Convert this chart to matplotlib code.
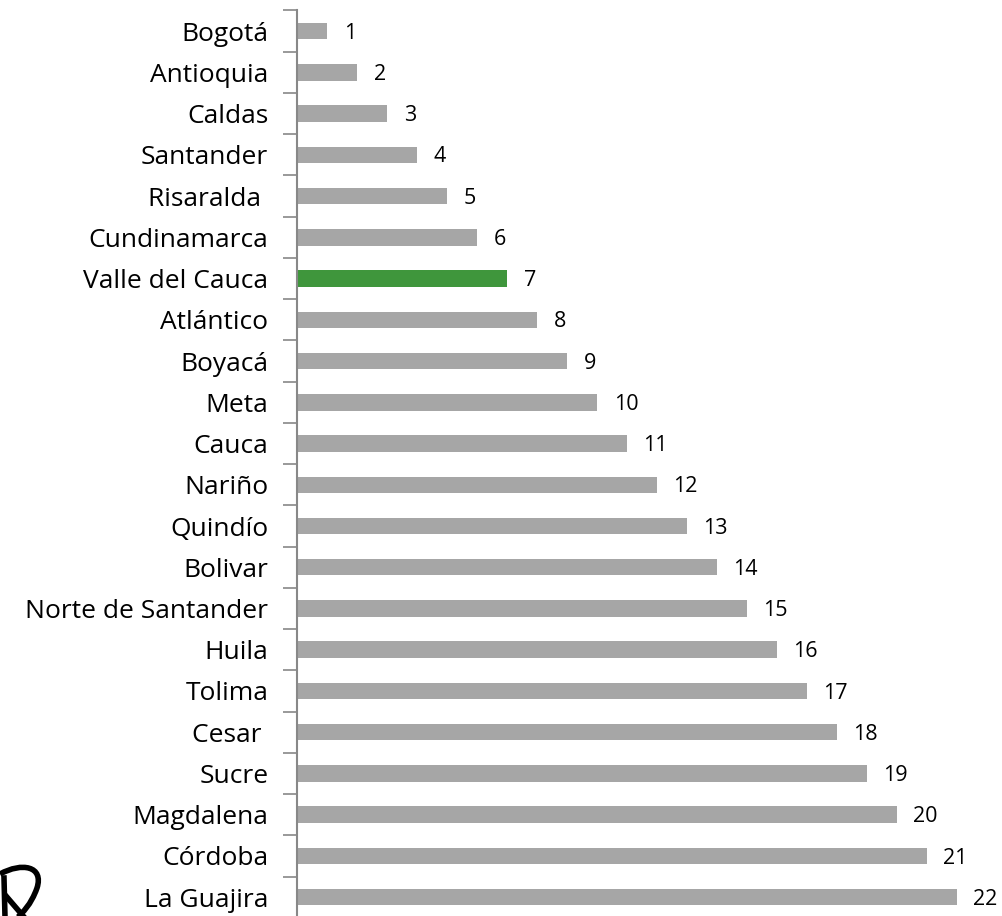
import numpy as np
import matplotlib.pyplot as plt
from matplotlib.path import Path
import matplotlib.patches as mpatches

# departments ranked, top to bottom
departments = ["Bogotá", "Antioquia", "Caldas", "Santander", "Risaralda ",
               "Cundinamarca", "Valle del Cauca", "Atlántico", "Boyacá", "Meta",
               "Cauca", "Nariño", "Quindío", "Bolivar", "Norte de Santander",
               "Huila", "Tolima", "Cesar ", "Sucre", "Magdalena", "Córdoba",
               "La Guajira"]
ranks = [1, 2, 3, 4, 5, 6, 7, 8, 9, 10, 11, 12, 13, 14, 15, 16, 17, 18, 19,
         20, 21, 22]
highlight = "Valle del Cauca"

plt.rcParams['font.family'] = ['Open Sans', 'DejaVu Sans']

fig = plt.figure(figsize=(10.03, 9.16), dpi=100)
ax = fig.add_axes([0.2966, -0.002, 0.6870, 0.9906])

n = len(departments)
y = np.arange(n)
colors = ['#3F963C' if d == highlight else '#A6A6A6' for d in departments]
ax.barh(y, ranks, height=0.4, color=colors, zorder=2)

for yi, v in zip(y, ranks):
    ax.text(v + 0.55, yi + 0.05, str(v), va='center', ha='left', fontsize=15.5)

ax.set_ylim(n - 0.5, -0.5)
ax.set_xlim(0, 23)

# boundary ticks on the left, labels centered on bars
ax.set_yticks(np.arange(n + 1) - 0.5)
ax.set_yticklabels([])
ax.set_yticks(y, minor=True)
ax.set_yticklabels(departments, minor=True, fontsize=19)
ax.tick_params(axis='y', which='major', length=10, width=1.2, color='#888888')
ax.tick_params(axis='y', which='minor', length=0, pad=21)

ax.set_xticks([])
for s in ['top', 'right', 'bottom']:
    ax.spines[s].set_visible(False)
ax.spines['left'].set_color('#888888')
ax.spines['left'].set_linewidth(1.5)

# partial logo in the lower-left corner (pixel coords, y from top)
def px(x, yy):
    return (x / 1003, 1 - yy / 916)

loop = Path([px(0, 874), px(22, 862), px(44, 866), px(37, 888),
             px(31, 905), px(22, 913), px(18, 917)],
            [Path.MOVETO, Path.CURVE4, Path.CURVE4, Path.CURVE4,
             Path.CURVE4, Path.CURVE4, Path.CURVE4])
fig.patches.append(mpatches.PathPatch(loop, transform=fig.transFigure,
                                      fill=False, lw=4, color='black'))
for (x0, y0), (x1, y1) in [((4, 878), (5, 917)), ((6, 896), (24, 917))]:
    a, b = px(x0, y0), px(x1, y1)
    fig.add_artist(plt.Line2D([a[0], b[0]], [a[1], b[1]],
                              transform=fig.transFigure, lw=4, color='black'))

fig.savefig('out.png', dpi=100)
